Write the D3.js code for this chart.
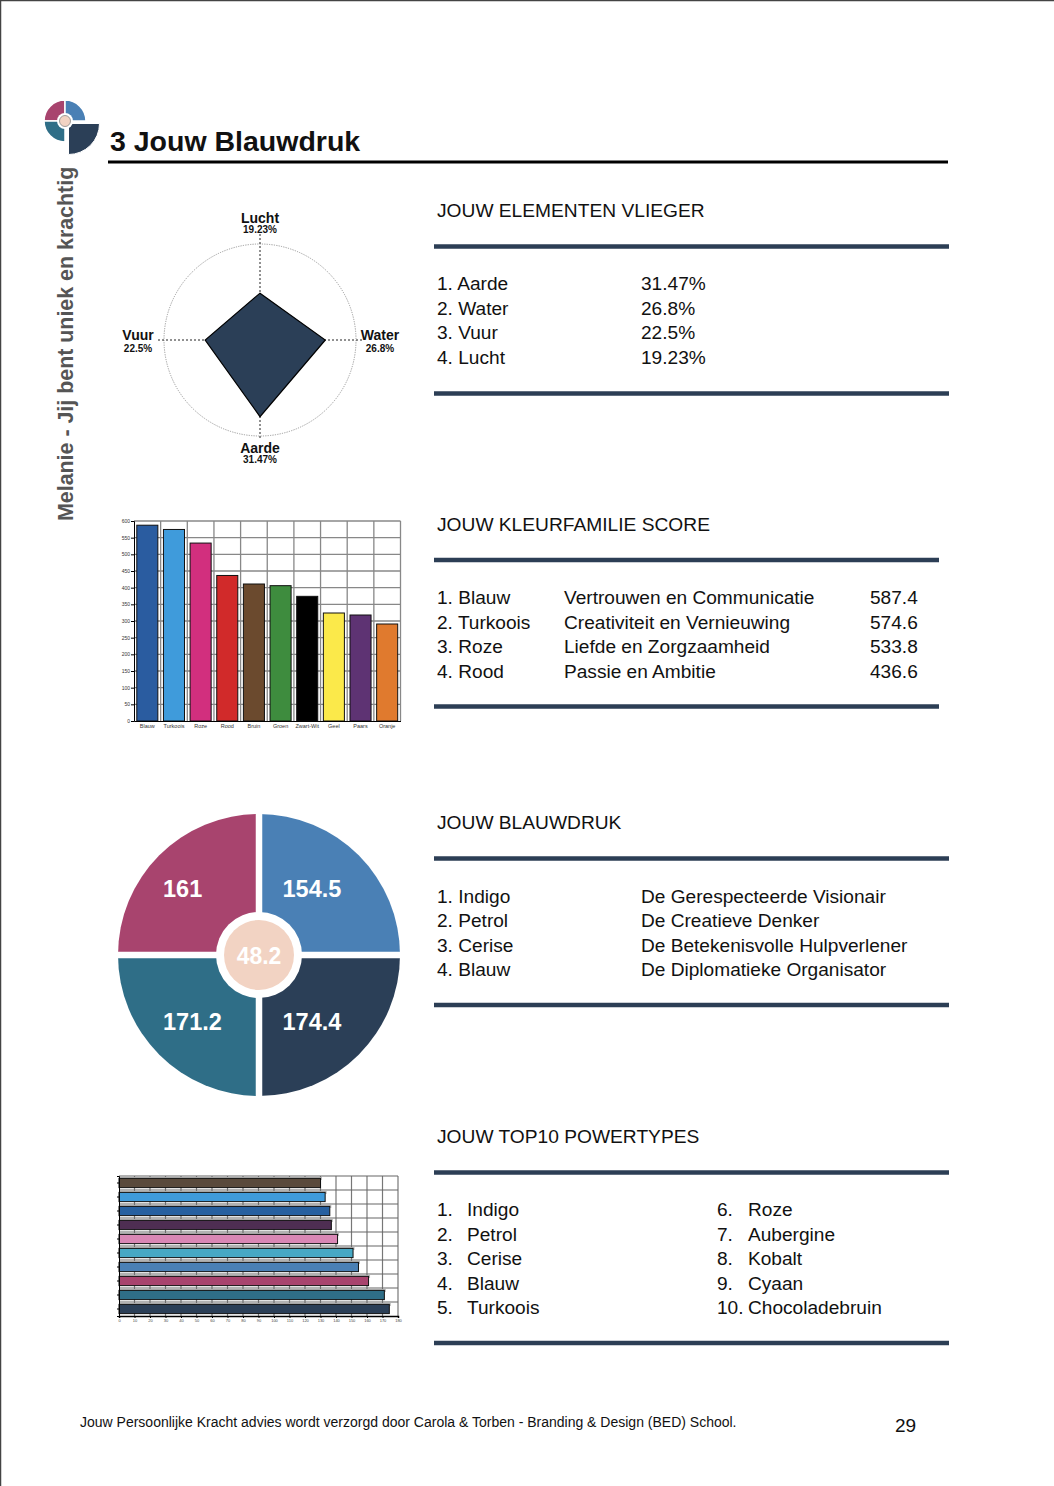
<!DOCTYPE html>
<html>
<head>
<meta charset="utf-8">
<script src="https://cdn.jsdelivr.net/npm/d3@7"></script>
<style>
  html, body { margin: 0; padding: 0; background: #fff; }
  svg { display: block; font-family: "Liberation Sans", Arial, Helvetica, sans-serif; }
</style>
</head>
<body>
<svg id="page" width="1054" height="1486"></svg>
<script>
// ---------------- DATA ----------------
const pageTitle = "3 Jouw Blauwdruk";
const sideText = "Melanie - Jij bent uniek en krachtig";
const footerText = "Jouw Persoonlijke Kracht advies wordt verzorgd door Carola & Torben - Branding & Design (BED) School.";
const pageNumber = "29";

// Elementen vlieger (radar)
const radarAxes = ["Lucht", "Water", "Aarde", "Vuur"];
const radarValues = [19.23, 26.8, 31.47, 22.5];
const elementRanks = ["Aarde", "Water", "Vuur", "Lucht"];
const elementRankValues = ["31.47%", "26.8%", "22.5%", "19.23%"];

// Kleurfamilie score (vertical bars)
const colorFamilies = ["Blauw", "Turkoois", "Roze", "Rood", "Bruin", "Groen", "Zwart-Wit", "Geel", "Paars", "Oranje"];
const colorFamilyScores = [587.4, 574.6, 533.8, 436.6, 411, 406, 374, 324, 318, 291];
const colorFamilyFills = ["#2A5CA0", "#3F9BDB", "#D22F7E", "#D12A2A", "#6B4A2E", "#3E8C3E", "#000000", "#FBE94A", "#5E3373", "#E07A2E"];
const colorFamilyTicks = [0, 50, 100, 150, 200, 250, 300, 350, 400, 450, 500, 550, 600];
const topFamilies = ["Blauw", "Turkoois", "Roze", "Rood"];
const topFamilyMeanings = ["Vertrouwen en Communicatie", "Creativiteit en Vernieuwing", "Liefde en Zorgzaamheid", "Passie en Ambitie"];
const topFamilyScores = ["587.4", "574.6", "533.8", "436.6"];

// Blauwdruk (quadrant pie), clockwise from top
const quadrantNames = ["Blauw", "Indigo", "Petrol", "Cerise"];
const quadrantValues = ["154.5", "174.4", "171.2", "161"];
const quadrantFills = ["#4A80B5", "#2B3F57", "#2F6E87", "#A8446E"];
const centerValue = "48.2";
const centerFill = "#F2D3C3";
const blueprintTypes = ["Indigo", "Petrol", "Cerise", "Blauw"];
const blueprintTitles = ["De Gerespecteerde Visionair", "De Creatieve Denker", "De Betekenisvolle Hulpverlener", "De Diplomatieke Organisator"];

// Top10 powertypes (horizontal bars)
const powerTypes = ["Indigo", "Petrol", "Cerise", "Blauw", "Turkoois", "Roze", "Aubergine", "Kobalt", "Cyaan", "Chocoladebruin"];
const powerValues = [174.4, 171.2, 161, 154.5, 151, 141, 137, 136, 133, 130];
const powerFills = ["#2B3F57", "#2F6E87", "#A8446E", "#4A80B5", "#47A8C4", "#D987B5", "#4E2E52", "#2760A0", "#3F9BDB", "#5A4A3C"];
const powerTicks = d3.range(0, 181, 10);

// ---------------- DRAW ----------------
const svg = d3.select("#page");
const ruleColor = "#2C3E55";

// page border
svg.append("line").attr("x1", 0).attr("x2", 1054).attr("y1", 0.5).attr("y2", 0.5).attr("stroke", "#444").attr("stroke-width", 1.5);
svg.append("line").attr("x1", 0.5).attr("x2", 0.5).attr("y1", 0).attr("y2", 1486).attr("stroke", "#444").attr("stroke-width", 1.5);

// Logo
(function logo() {
  const g = svg.append("g").attr("transform", "translate(65,121)");
  const small = d3.arc().innerRadius(0).outerRadius(21);
  g.append("path").attr("d", small({ startAngle: -Math.PI / 2, endAngle: 0 })).attr("fill", "#A8446E").attr("stroke", "#fff").attr("stroke-width", 1.5);
  g.append("path").attr("d", small({ startAngle: 0, endAngle: Math.PI / 2 })).attr("fill", "#4A80B5").attr("stroke", "#fff").attr("stroke-width", 1.5);
  g.append("path").attr("d", small({ startAngle: Math.PI, endAngle: Math.PI * 1.5 })).attr("fill", "#2F6E87").attr("stroke", "#fff").attr("stroke-width", 1.5);
  const big = d3.arc().innerRadius(0).outerRadius(31);
  g.append("path").attr("transform", "translate(3.5,2.5)").attr("d", big({ startAngle: Math.PI / 2, endAngle: Math.PI })).attr("fill", "#2B3F57").attr("stroke", "#fff").attr("stroke-width", 1);
  g.append("circle").attr("r", 8).attr("fill", "#fff");
  g.append("circle").attr("r", 5.5).attr("fill", "#F2D3C3").attr("stroke", "#888").attr("stroke-width", 0.8);
})();

// Title
svg.append("text").attr("x", 110).attr("y", 151).attr("font-size", 28.5).attr("font-weight", "bold").attr("fill", "#111").text(pageTitle);
svg.append("line").attr("x1", 108).attr("x2", 948).attr("y1", 162).attr("y2", 162).attr("stroke", "#000").attr("stroke-width", 3);

// Side vertical text
svg.append("text").attr("transform", "translate(72.5,521) rotate(-90)").attr("font-size", 21.4).attr("font-weight", "bold").attr("fill", "#555").text(sideText);

// Footer
svg.append("text").attr("x", 80).attr("y", 1427).attr("font-size", 14).attr("fill", "#111").text(footerText);
svg.append("text").attr("x", 895).attr("y", 1432).attr("font-size", 19).attr("fill", "#111").text(pageNumber);

function section(headerText, headerY, ruleTop, ruleBottom, ruleRight) {
  svg.append("text").attr("x", 437).attr("y", headerY).attr("font-size", 19.2).attr("fill", "#111").text(headerText);
  [ruleTop, ruleBottom].forEach(y => {
    svg.append("line").attr("x1", 434).attr("x2", ruleRight).attr("y1", y).attr("y2", y).attr("stroke", ruleColor).attr("stroke-width", 4.5);
  });
}
function rows(cols, xs, y0, dy) {
  cols[0].forEach((_, i) => {
    cols.forEach((col, c) => {
      svg.append("text").attr("x", xs[c]).attr("y", y0 + i * dy).attr("font-size", 19.1).attr("fill", "#111").text(col[i]);
    });
  });
}

// ---- Section 1: Elementen vlieger
section("JOUW ELEMENTEN VLIEGER", 217, 246.5, 393.5, 949);
rows([elementRanks.map((d, i) => (i + 1) + ". " + d), elementRankValues], [437, 641], 290, 24.6);

(function radar() {
  const cx = 260, cy = 340, R = 96;
  const r = d3.scaleLinear().domain([0, 39.4]).range([0, R]);
  const g = svg.append("g").attr("transform", `translate(${cx},${cy})`);
  g.append("circle").attr("r", R).attr("fill", "none").attr("stroke", "#999").attr("stroke-width", 1).attr("stroke-dasharray", "1.2,1.2");
  const ang = d3.scalePoint().domain(radarAxes).range([0, 2 * Math.PI * 3 / 4]);
  const ext = [108, 102, 98, 102];
  radarAxes.forEach((a, i) => {
    const t = ang(a);
    g.append("line").attr("x1", 0).attr("y1", 0)
      .attr("x2", Math.sin(t) * ext[i]).attr("y2", -Math.cos(t) * ext[i])
      .attr("stroke", "#222").attr("stroke-width", 1).attr("stroke-dasharray", "2,2");
  });
  const line = d3.lineRadial().angle((d, i) => ang(radarAxes[i])).radius(d => r(d)).curve(d3.curveLinearClosed);
  g.append("path").attr("d", line(radarValues)).attr("fill", "#2B3F57").attr("stroke", "#000").attr("stroke-width", 1.2);
  const labelPos = {
    "Lucht": [0, -117], "Water": [120, 0], "Aarde": [0, 113], "Vuur": [-122, 0]
  };
  radarAxes.forEach((a, i) => {
    const p = labelPos[a];
    g.append("text").attr("x", p[0]).attr("y", p[1]).attr("text-anchor", "middle").attr("font-size", 14).attr("font-weight", "bold").attr("fill", "#111").text(a);
    g.append("text").attr("x", p[0]).attr("y", p[1] + (a === "Lucht" || a === "Aarde" ? 10 : 11.5)).attr("text-anchor", "middle").attr("font-size", 10).attr("font-weight", "bold").attr("fill", "#111").text(radarValues[i] + "%");
  });
})();

// ---- Section 2: Kleurfamilie score
section("JOUW KLEURFAMILIE SCORE", 531, 560, 706.5, 939);
rows([topFamilies.map((d, i) => (i + 1) + ". " + d), topFamilyMeanings, topFamilyScores], [437, 564, 870], 604, 24.6);

(function vbars() {
  const x = d3.scaleBand().domain(colorFamilies).range([134, 400.5]).paddingInner(0.21).paddingOuter(0.105);
  const xb = d3.scaleBand().domain(colorFamilies).range([134, 400.5]);
  const y = d3.scaleLinear().domain([0, 600]).range([721, 521]);
  const g = svg.append("g");
  g.selectAll("line.hg").data(colorFamilyTicks.slice(1)).join("line")
    .attr("x1", 134).attr("x2", 400.5).attr("y1", d => y(d)).attr("y2", d => y(d))
    .attr("stroke", "#888").attr("stroke-width", 1.3);
  g.selectAll("line.vg").data(colorFamilies.slice(1).concat(["__end"])).join("line")
    .attr("x1", d => d === "__end" ? 400.5 : xb(d)).attr("x2", d => d === "__end" ? 400.5 : xb(d))
    .attr("y1", 521).attr("y2", 721).attr("stroke", "#888").attr("stroke-width", 1.3);
  g.selectAll("rect").data(colorFamilies).join("rect")
    .attr("x", d => x(d)).attr("width", x.bandwidth())
    .attr("y", (d, i) => y(colorFamilyScores[i])).attr("height", (d, i) => y(0) - y(colorFamilyScores[i]))
    .attr("fill", (d, i) => colorFamilyFills[i]).attr("stroke", "#111").attr("stroke-width", 1);
  const ya = d3.axisLeft(y).tickValues(colorFamilyTicks).tickSize(3).tickPadding(1);
  g.append("g").attr("transform", "translate(134,0)").call(ya)
    .call(s => s.selectAll("text").attr("font-size", 5).attr("fill", "#333").attr("font-family", "Liberation Sans, Arial"))
    .call(s => s.select(".domain").attr("stroke", "#000"));
  const xa = d3.axisBottom(xb).tickSize(0).tickPadding(3);
  g.append("g").attr("transform", "translate(0,721)").call(xa)
    .call(s => s.selectAll("text").attr("font-size", 5.5).attr("fill", "#333").attr("font-family", "Liberation Sans, Arial"))
    .call(s => s.select(".domain").attr("stroke", "#000"));
})();

// ---- Section 3: Blauwdruk
section("JOUW BLAUWDRUK", 829, 858.5, 1005, 949);
rows([blueprintTypes.map((d, i) => (i + 1) + ". " + d), blueprintTitles], [437, 641], 903, 24.4);

(function quadPie() {
  const cx = 259, cy = 955;
  const g = svg.append("g").attr("transform", `translate(${cx},${cy})`);
  const pie = d3.pie().value(() => 1).sort(null);
  const arc = d3.arc().innerRadius(0).outerRadius(141);
  const arcs = pie(quadrantValues);
  g.selectAll("path").data(arcs).join("path").attr("d", arc).attr("fill", (d, i) => quadrantFills[i]);
  g.append("line").attr("x1", -145).attr("x2", 145).attr("y1", 0).attr("y2", 0).attr("stroke", "#fff").attr("stroke-width", 6.5);
  g.append("line").attr("x1", 0).attr("x2", 0).attr("y1", -145).attr("y2", 145).attr("stroke", "#fff").attr("stroke-width", 6.5);
  g.append("circle").attr("r", 43).attr("fill", "#fff");
  g.append("circle").attr("r", 35).attr("fill", centerFill);
  g.append("text").attr("x", 0).attr("y", 8.5).attr("text-anchor", "middle").attr("font-size", 23).attr("font-weight", "bold").attr("fill", "#fff").text(centerValue);
  g.selectAll("text.q").data(arcs).join("text").attr("class", "q")
    .attr("x", d => arc.centroid(d)[0] < 0 ? -96 : 23.5)
    .attr("y", d => arc.centroid(d)[1] < 0 ? -58 : 74.5)
    .attr("font-size", 23.5).attr("font-weight", "bold").attr("fill", "#fff")
    .text(d => d.data);
})();

// ---- Section 4: Top10 powertypes
section("JOUW TOP10 POWERTYPES", 1143, 1172.5, 1343, 949);
rows([powerTypes.slice(0, 5).map((d, i) => (i + 1) + "."), powerTypes.slice(0, 5)], [437, 467], 1216, 24.5);
rows([powerTypes.slice(5).map((d, i) => (i + 6) + "."), powerTypes.slice(5)], [717, 748], 1216, 24.5);

(function hbars() {
  const order = powerTypes.slice().reverse();
  const x = d3.scaleLinear().domain([0, 180]).range([119, 398]);
  const yb = d3.scaleBand().domain(order).range([1176, 1316]);
  const y = d3.scaleBand().domain(order).range([1176, 1316]).paddingInner(0.34).paddingOuter(0.17);
  const g = svg.append("g");
  g.selectAll("line.vg").data(powerTicks.slice(1)).join("line")
    .attr("x1", d => x(d)).attr("x2", d => x(d)).attr("y1", 1176).attr("y2", 1316)
    .attr("stroke", "#777").attr("stroke-width", 1.2);
  g.selectAll("line.hg").data(order).join("line")
    .attr("x1", 119).attr("x2", 398).attr("y1", d => yb(d)).attr("y2", d => yb(d))
    .attr("stroke", "#666").attr("stroke-width", 1.2);
  g.selectAll("rect.bg").data(order).join("rect").attr("class", "bg")
    .attr("x", 119).attr("width", d => x(powerValues[powerTypes.indexOf(d)]) - 119 + 1.5)
    .attr("y", d => yb(d) + 1).attr("height", 3).attr("fill", "#bbb");
  g.selectAll("rect.bar").data(order).join("rect").attr("class", "bar")
    .attr("x", 119).attr("width", d => x(powerValues[powerTypes.indexOf(d)]) - 119)
    .attr("y", d => y(d)).attr("height", y.bandwidth())
    .attr("fill", d => powerFills[powerTypes.indexOf(d)]).attr("stroke", "#111").attr("stroke-width", 1);
  const xa = d3.axisBottom(x).tickValues(powerTicks).tickSize(2).tickPadding(1);
  g.append("g").attr("transform", "translate(0,1316)").call(xa)
    .call(s => s.selectAll("text").attr("font-size", 4).attr("fill", "#444").attr("font-family", "Liberation Sans, Arial"))
    .call(s => s.select(".domain").attr("stroke", "#000").attr("stroke-width", 1.5));
  const ya = d3.axisLeft(yb).tickSize(2).tickFormat("");
  g.append("g").attr("transform", "translate(119,0)").call(ya)
    .call(s => s.select(".domain").attr("stroke", "#000"));
})();
</script>
</body>
</html>
